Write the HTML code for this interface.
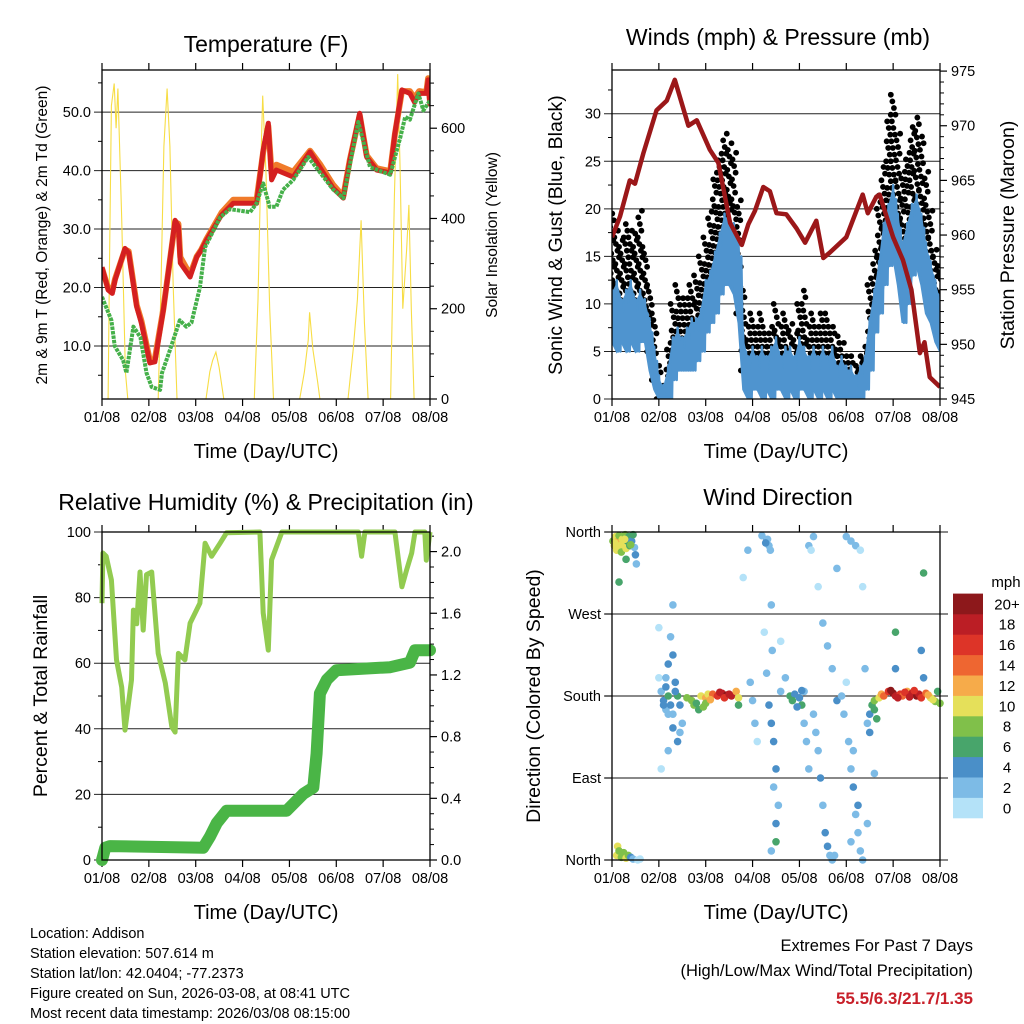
<!DOCTYPE html>
<html><head><meta charset="utf-8"><style>
html,body{margin:0;padding:0;background:#fff;}
svg{display:block;font-family:"Liberation Sans",Arial,sans-serif;}
</style></head><body>
<svg id="fig" width="1024" height="1024" viewBox="0 0 1024 1024">
<defs>
<clipPath id="c1"><rect x="102" y="70" width="328" height="329"/></clipPath>
<clipPath id="c2"><rect x="612" y="70" width="328" height="329"/></clipPath>
<clipPath id="c3"><rect x="96" y="526" width="340" height="340"/></clipPath>
<clipPath id="c4"><rect x="606" y="526" width="340" height="340"/></clipPath>
</defs>
</svg>
<script>
// ---------- DATA ----------
const dayLabels = ["01/08","02/08","03/08","04/08","05/08","06/08","07/08","08/08"];
// Temperature panel
const tempTime = [0,0.13,0.22,0.28,0.49,0.57,0.74,0.84,1.02,1.13,1.31,1.56,1.63,1.67,1.88,2.02,2.12,2.23,2.55,2.8,3.3,3.44,3.55,3.62,3.72,4.08,4.44,4.66,4.93,5.15,5.29,5.5,5.65,5.86,6.15,6.25,6.4,6.57,6.67,6.77,6.92,6.96,7.0];
const temp2m = [23.5,19.6,19,21.3,26.7,25.9,16.7,13.9,7.1,7.3,16.2,31.5,30.4,24.2,21.8,25.2,26.4,28.1,32.4,34.4,34.4,43.5,48.1,38.4,40.1,38.9,43.2,40.4,37,35.3,41.8,49.8,42.3,40.1,39.6,46.4,53.8,53.2,51.7,53.2,53.2,55.5,51];
const temp9m = [23.3,19.9,19.4,21.5,26.5,26.2,17,14.3,7.6,7.8,16.4,31.2,30.9,25.2,22.2,25.3,26.5,28.3,32.8,35,35,43.2,47.6,39.6,41,39.8,43.4,41,37.6,35.6,41.9,49.5,42.6,40.4,39.9,46.2,53.6,53.6,52.4,53.6,53.4,55.8,51.8];
const dewTime = [0,0.2,0.27,0.45,0.52,0.67,0.82,0.95,1.06,1.24,1.28,1.45,1.66,1.8,1.91,2.09,2.2,2.52,2.73,3.16,3.3,3.44,3.58,3.72,3.86,4.08,4.4,4.93,5.15,5.47,5.72,6.15,6.37,6.47,6.57,6.75,6.86,7.0];
const dew2m = [18.4,14.4,10,7.6,5.4,13.3,11.5,5.4,3,2.5,5.4,9.3,14.4,13.3,14,20,26.9,32,33.4,32.9,34.4,37.8,33.8,33.8,36.7,38.4,42.3,36.8,35.3,48.3,40.6,39.3,45.8,49.2,48.7,53.2,50.3,52];
const solarTime = [0,0.13,0.16,0.2,0.26,0.3,0.34,0.42,0.5,0.55,1.2,1.26,1.32,1.39,1.45,1.52,1.6,2.22,2.3,2.36,2.43,2.5,2.6,3.25,3.33,3.4,3.43,3.5,3.58,3.66,4.22,4.32,4.4,4.43,4.5,4.6,4.65,5.25,5.36,5.45,5.53,5.6,5.68,6.16,6.24,6.31,6.36,6.42,6.5,6.55,6.6,6.66,7.0];
const solarVal = [0,0,300,650,699,600,688,400,60,0,0,250,560,688,560,250,0,0,60,85,104,70,0,0,220,560,672,500,200,0,0,60,130,192,110,40,0,0,110,220,396,170,0,0,450,720,520,200,330,430,200,0,0];
// Winds panel (0.1 day steps)
const windLo = [6,5,6,5,6,5,6,6,3,1,0,0,0,2,3,3,3,3,4,5,7,8,9,11,12,12,11,8,1,0,1,1,0,1,0,1,1,0,1,0,1,1,0,1,0,1,0,1,0,0,0,0,0,0,1,3,7,9,12,14,15,12,8,10,13,14,12,9,8,6,5];
const windHi = [11,12,10,11,12,10,11,10,8,5,2,1,3,6,7,6,7,8,8,9,12,13,15,17,19,19,18,16,6,4,5,4,5,4,5,6,4,5,5,4,6,5,4,5,4,5,4,5,3,4,3,3,2,3,4,8,11,14,18,20,22,19,16,18,20,21,19,16,14,12,10];
const gustLo = [9,10,9,10,10,9,10,9,5,2,0,0,1,3,5,5,5,5,6,8,10,12,14,16,16,15,14,9,3,2,2,2,2,2,2,3,2,2,3,2,3,3,2,2,2,2,2,2,1,1,1,1,0,1,2,5,10,13,16,18,18,16,12,14,16,17,15,12,10,8,7];
const gustHi = [20,18,17,19,18,18,20,16,12,9,4,2,6,10,12,11,11,12,13,15,17,20,24,26,28,27,26,21,12,8,9,8,9,7,8,10,8,9,8,7,10,12,8,9,8,9,9,8,7,6,5,5,4,5,6,13,16,22,25,30,32,28,24,26,29,30,28,24,20,16,14];
const presTime = [0,0.17,0.38,0.49,0.67,0.95,1.17,1.34,1.63,1.81,2.09,2.27,2.52,2.77,2.91,3.05,3.23,3.37,3.51,3.72,3.94,4.12,4.36,4.51,4.65,5.0,5.35,5.46,5.64,5.71,6.0,6.21,6.39,6.57,6.67,6.78,7.0];
const presVal = [959.8,961.7,965,964.7,967.5,971.4,972.3,974.2,970,970.5,967.8,966.6,961.1,959.1,961,962.2,964.4,964,962,961.9,960.6,959.3,961.3,957.9,958.4,959.8,963.7,962,963.5,963.7,959.8,957.7,955,949.2,950.2,947,946.1];
// RH / precip panel
const rhTime = [0,0.02,0.09,0.2,0.31,0.42,0.49,0.63,0.67,0.74,0.81,0.88,0.95,1.06,1.2,1.35,1.49,1.56,1.63,1.77,1.88,2.09,2.2,2.34,2.52,2.66,3.37,3.44,3.55,3.62,3.84,5.47,5.54,5.61,6.25,6.4,6.5,6.61,6.68,6.89,6.92,7.0];
const rhVal = [78.3,93.6,92.6,85.4,61,52.7,39.6,54.9,76.2,72,87.8,70.1,87,87.8,63,54,40.6,39,63,61,72.2,78.3,96.6,92.6,96.6,99.8,100,75.3,64,91.5,100,100,92.6,100,100,83.3,88.4,93.6,100,100,91.4,100];
const rainTime = [0,0.07,0.17,2.16,2.3,2.45,2.66,3.94,4.3,4.51,4.58,4.65,4.8,5.0,6.15,6.57,6.68,7.0];
const rainVal = [0,0.08,0.09,0.08,0.15,0.24,0.32,0.32,0.43,0.47,0.69,1.08,1.17,1.23,1.25,1.28,1.36,1.36];
// Wind direction panel
const dirTime = [0.02,0.05,0.08,0.1,0.13,0.15,0.18,0.2,0.22,0.25,0.28,0.3,0.33,0.36,0.38,0.42,0.45,0.48,0.5,0.52,0.3,0.15,0.06,0.27,0.4,
0.1,0.12,0.15,0.2,0.25,0.3,0.35,0.4,0.45,0.55,0.6,
1.0,1.0,1.05,1.1,1.15,1.15,1.2,1.25,1.3,1.3,1.35,1.4,1.4,1.45,1.5,1.2,1.25,1.3,1.2,1.05,1.3,1.1,1.2,1.35,1.45,1.15,
1.6,1.7,1.75,1.8,1.9,2.0,2.05,2.15,2.25,2.35,2.45,2.55,2.65,2.7,2.7,1.85,2.0,2.1,2.3,2.4,2.5,1.95,
2.8,2.9,2.95,3.0,3.05,3.1,3.2,3.3,3.35,3.3,3.35,3.4,3.45,3.5,3.45,3.5,3.5,3.4,3.55,3.6,3.6,3.7,3.4,3.25,3.32,3.28,3.38,3.42,
3.8,3.9,4.0,4.05,4.1,4.1,4.15,4.2,4.2,4.25,4.3,4.35,4.4,4.45,4.5,4.55,4.6,4.65,4.7,4.3,4.4,4.5,3.85,3.95,4.05,
4.6,4.7,4.8,4.9,4.95,5.0,5.05,5.1,5.15,5.2,5.25,5.3,5.35,5.0,5.1,5.2,5.3,5.35,4.8,5.4,5.15,5.25,5.1,4.75,
5.45,5.5,5.55,5.6,5.6,5.7,5.75,5.8,5.9,6.0,6.05,6.15,6.2,6.3,6.4,6.5,6.55,6.6,6.7,6.8,6.9,7.0,6.95,6.05,6.05,6.65,6.6,6.65,5.6,5.45,5.95,6.1,6.25,6.35,6.45,6.75,6.85,5.65,5.5];
const dirDeg = [350,345,355,340,350,356,345,338,352,347,357,342,350,355,345,350,357,343,335,325,330,305,348,352,346,
5,15,10,3,8,2,5,3,1,0,1,
255,200,185,175,165,190,180,170,160,145,195,180,130,170,150,215,245,225,120,100,280,170,160,185,140,200,
178,175,170,172,180,178,182,182,180,183,181,180,185,178,170,165,172,176,184,178,182,168,
310,340,195,175,150,130,356,350,345,205,170,150,130,100,80,40,20,10,60,185,240,200,280,250,352,348,340,230,
180,182,178,170,185,150,130,100,345,340,160,140,120,90,60,30,15,5,0,355,300,260,175,168,186,
235,210,175,180,160,195,130,100,80,50,30,10,0,355,350,345,340,300,320,210,120,60,20,5,
150,160,170,165,175,178,182,180,185,183,180,182,180,185,183,180,182,178,183,178,174,172,185,210,250,200,230,315,95,40,186,178,184,179,186,181,176,155,140];
const dirSpeed = [9,10,11,10,12,9,10,8,11,10,9,10,7,6,7,5,6,3,4,2,7,7,10,11,9,
10,11,9,8,9,10,8,4,2,1,1,
1,1,2,4,3,5,7,4,3,5,4,6,5,4,3,4,3,5,2,1,3,4,3,4,3,2,
8,9,8,7,10,12,11,15,17,18,20,19,12,10,6,6,9,13,19,16,18,8,
1,2,2,3,3,1,3,4,3,3,4,5,4,4,3,4,6,2,3,2,1,2,2,1,3,4,2,2,
6,5,4,6,3,2,3,2,2,1,3,2,3,4,3,5,4,3,2,2,1,3,7,5,4,
2,3,4,2,3,1,2,3,4,3,2,3,2,2,3,2,1,1,2,2,3,4,3,2,
3,5,7,6,8,10,12,14,17,20,19,17,15,12,18,20,19,17,14,10,9,8,6,4,6,5,4,6,2,2,20,18,16,19,17,12,11,7,4];
const speedBins = ["0","2","4","6","8","10","12","14","16","18","20+"];
const speedColors = ["#b4e2f8","#7dbbe6","#4a8fc8","#48a56b","#80c04a","#e5e05a","#f6ab4a","#ee6631","#dd3428","#bb1e25","#8d181b"];

// ---------- HELPERS ----------
const NS = "http://www.w3.org/2000/svg";
const svg = document.getElementById("fig");
function mk(tag, attrs, parent) {
  const e = document.createElementNS(NS, tag);
  for (const k in attrs) e.setAttribute(k, attrs[k]);
  (parent || svg).appendChild(e);
  return e;
}
function txt(s, x, y, size, anchor, parent, extra) {
  const t = mk("text", Object.assign({x: x, y: y, "font-size": size, "text-anchor": anchor || "middle", fill: "#000"}, extra || {}), parent);
  t.textContent = s;
  return t;
}
function linScale(d0, d1, r0, r1) { return v => r0 + (v - d0) / (d1 - d0) * (r1 - r0); }

const P1 = {x:102,y:70,w:328,h:329}, P2 = {x:612,y:70,w:328,h:329}, P3 = {x:102,y:532,w:328,h:328}, P4 = {x:612,y:532,w:328,h:328};

function timeAxis(P, name) {
  const g = mk("g", {});
  
  
  const sx = linScale(0, 7, P.x, P.x + P.w);
  for (let i = 0; i < dayLabels.length; i++) {
    const x = sx(i);
    mk("line", {x1:x, y1:P.y + P.h, x2:x, y2:P.y + P.h + 7, stroke:"#000", "stroke-width":1.2}, g);
    mk("line", {x1:x, y1:P.y, x2:x, y2:P.y - 7, stroke:"#000", "stroke-width":1.2}, g);
    const t = txt(dayLabels[i], x, P.y + P.h + 23, 14.5, "middle", g);
    
    
  }
  const tt = txt("Time (Day/UTC)", P.x + P.w / 2, P.y + P.h + 59, 20, "middle", g);
  
  
  return sx;
}
function frame(P, name) {
  const r = mk("rect", {x:P.x, y:P.y, width:P.w, height:P.h, fill:"none", stroke:"#000", "stroke-width":1.3});
  
  
}
function leftAxis(P, sy, ticks, labels, minors, name, grid) {
  const g = mk("g", {});
  
  
  ticks.forEach((v, i) => {
    const y = sy(v);
    if (grid) mk("line", {x1:P.x - 8, y1:y, x2:P.x + P.w, y2:y, stroke:"#222", "stroke-width":1}, g);
    else mk("line", {x1:P.x - 7, y1:y, x2:P.x, y2:y, stroke:"#000", "stroke-width":1.2}, g);
    const t = txt(labels[i], P.x - 11, y + 5, 14.5, "end", g);
    
    
  });
  minors.forEach(v => { const y = sy(v); mk("line", {x1:P.x - 4, y1:y, x2:P.x, y2:y, stroke:"#000", "stroke-width":1}, g); });
}
function rightAxis(P, sy, ticks, labels, minors, name) {
  const g = mk("g", {});
  
  
  ticks.forEach((v, i) => {
    const y = sy(v);
    mk("line", {x1:P.x + P.w, y1:y, x2:P.x + P.w + 7, y2:y, stroke:"#000", "stroke-width":1.2}, g);
    const t = txt(labels[i], P.x + P.w + 11, y + 5, 14.5, "start", g);
    
    
  });
  minors.forEach(v => { const y = sy(v); mk("line", {x1:P.x + P.w, y1:y, x2:P.x + P.w + 4, y2:y, stroke:"#000", "stroke-width":1}, g); });
}
function vtitle(s, x, y, size, name) {
  const t = txt(s, x, y, size, "middle", svg, {transform:"rotate(-90 " + x + " " + y + ")"});
  
  
}
function title(s, x, y, name) {
  const t = txt(s, x, y, 23, "middle");
  
  
}
function pathFrom(ts, vs, sx, sy) {
  return ts.map((t, i) => (i ? "L" : "M") + sx(t).toFixed(1) + "," + sy(vs[i]).toFixed(1)).join(" ");
}

// ---------- PANEL 1: Temperature ----------
{
  const sx = timeAxis(P1, "temperature");
  const sy = linScale(0.94, 57.2, P1.y + P1.h, P1.y);
  const sySol = linScale(0, 729, P1.y + P1.h, P1.y);
  leftAxis(P1, sy, [10,20,30,40,50], ["10.0","20.0","30.0","40.0","50.0"], [5,15,25,35,45,55], "temperature", true);
  rightAxis(P1, sySol, [0,200,400,600], ["0","200","400","600"], [50,100,150,250,300,350,450,500,550,650,700], "solar");
  const g = mk("g", {"clip-path":"url(#c1)"});
  
  
  const sol = mk("path", {d:pathFrom(solarTime, solarVal, sx, sySol), fill:"none", stroke:"#f7dd45", "stroke-width":1.1}, g);
  
  
  const o = mk("path", {d:pathFrom(tempTime, temp9m, sx, sy), fill:"none", stroke:"#f07b2a", "stroke-width":6, "stroke-linejoin":"round"}, g);
  
  
  const r = mk("path", {d:pathFrom(tempTime, temp2m, sx, sy), fill:"none", stroke:"#d42020", "stroke-width":5, "stroke-linejoin":"round"}, g);
  
  
  const dw = mk("path", {d:pathFrom(dewTime, dew2m, sx, sy), fill:"none", stroke:"#45b04a", "stroke-width":4, "stroke-dasharray":"3.5 1", "stroke-linejoin":"round"}, g);
  
  
  frame(P1, "temperature");
  title("Temperature (F)", 266, 52, "temperature-title");
  vtitle("2m & 9m T (Red, Orange) & 2m Td (Green)", 47, 235, 15.5, "temperature-y-axis-title");
  vtitle("Solar Insolation (Yellow)", 497, 235, 15.5, "solar-y-axis-title");
}

// ---------- PANEL 2: Winds ----------
{
  const sx = timeAxis(P2, "winds");
  const sy = linScale(0, 34.6, P2.y + P2.h, P2.y);
  const syP = linScale(945, 975.1, P2.y + P2.h, P2.y);
  leftAxis(P2, sy, [0,5,10,15,20,25,30], ["0","5","10","15","20","25","30"], [2.5,7.5,12.5,17.5,22.5,27.5,32.5], "wind", true);
  rightAxis(P2, syP, [945,950,955,960,965,970,975], ["945","950","955","960","965","970","975"], [946,947,948,949,951,952,953,954,956,957,958,959,961,962,963,964,966,967,968,969,971,972,973,974], "pressure");
  const g = mk("g", {"clip-path":"url(#c2)"});
  
  
  const step = 0.1;
  const gg = mk("g", {fill:"#000"}, g);
  
  
  gustLo.forEach((lo, i) => {
    const hi = gustHi[i];
    const t0 = i * step;
    let k = 0;
    for (let v = lo; v <= hi + 0.01; v += 0.7) {
      const c = mk("circle", {cx:sx(t0 + ((k * 7) % 10 - 4.5) * 0.011), cy:sy(v), r:2.9}, gg);
      
      
      k++;
    }
  });
  // wind band polygon
  const band = [];
  windHi.forEach((hi, i) => band.push(sx(i * step).toFixed(1) + "," + sy(hi).toFixed(1)));
  for (let i = windLo.length - 1; i >= 0; i--) band.push(sx(i * step).toFixed(1) + "," + sy(windLo[i]).toFixed(1));
  const wb = mk("polygon", {points:band.join(" "), fill:"#4f94cf", stroke:"#4f94cf", "stroke-width":2}, g);
  
  
  const ws = [], wv = [];
  windLo.forEach((lo, i) => {
    ws.push(i * step); wv.push(windHi[i] + 0.5);
    ws.push(i * step + 0.03); wv.push(lo);
    ws.push(i * step + 0.06); wv.push(windHi[i] - 1);
    ws.push(i * step + 0.08); wv.push(lo);
  });
  const wl = mk("path", {d:pathFrom(ws, wv, sx, sy), fill:"none", stroke:"#4f94cf", "stroke-width":2.5, "stroke-linejoin":"round"}, g);
  
  
  const pl = mk("path", {d:pathFrom(presTime, presVal, sx, syP), fill:"none", stroke:"#9b1719", "stroke-width":4.5, "stroke-linejoin":"round"}, g);
  
  
  frame(P2, "winds");
  title("Winds (mph) & Pressure (mb)", 778, 45, "winds-title");
  vtitle("Sonic Wind & Gust (Blue, Black)", 562, 235, 19.5, "wind-y-axis-title");
  vtitle("Station Pressure (Maroon)", 1014, 235, 19.5, "pressure-y-axis-title");
}

// ---------- PANEL 3: RH & Precip ----------
{
  const sx = timeAxis(P3, "humidity");
  const sy = linScale(0, 100, P3.y + P3.h, P3.y);
  const syR = linScale(0, 2.127, P3.y + P3.h, P3.y);
  leftAxis(P3, sy, [0,20,40,60,80,100], ["0","20","40","60","80","100"], [10,30,50,70,90], "humidity", true);
  rightAxis(P3, syR, [0,0.4,0.8,1.2,1.6,2.0], ["0.0","0.4","0.8","1.2","1.6","2.0"], [0.1,0.2,0.3,0.5,0.6,0.7,0.9,1.0,1.1,1.3,1.4,1.5,1.7,1.8,1.9,2.1], "precipitation");
  const g = mk("g", {"clip-path":"url(#c3)"});
  
  
  const rh = mk("path", {d:pathFrom(rhTime, rhVal, sx, sy), fill:"none", stroke:"#92cb50", "stroke-width":5, "stroke-linejoin":"round"}, g);
  
  
  const rn = mk("path", {d:pathFrom(rainTime, rainVal, sx, syR), fill:"none", stroke:"#4ab546", "stroke-width":12, "stroke-linejoin":"round", "stroke-linecap":"round"}, g);
  
  
  frame(P3, "humidity");
  title("Relative Humidity (%) & Precipitation (in)", 266, 510, "humidity-title");
  vtitle("Percent & Total Rainfall", 47, 696, 19.5, "humidity-y-axis-title");
}

// ---------- PANEL 4: Wind direction ----------
{
  const sx = timeAxis(P4, "direction");
  const sy = linScale(0, 360, P4.y + P4.h, P4.y);
  leftAxis(P4, sy, [0,90,180,270,360], ["North","East","South","West","North"], [], "direction", false);
  const gl = mk("g", {});
  [0,90,180,270,360].forEach(v => mk("line", {x1:P4.x - 8, y1:sy(v), x2:P4.x + P4.w + 8, y2:sy(v), stroke:"#111", "stroke-width":1}, gl));
  const g = mk("g", {"clip-path":"url(#c4)"});
  
  
  dirTime.forEach((t, i) => {
    const bin = Math.min(10, Math.floor(dirSpeed[i] / 2));
    const c = mk("circle", {cx:sx(t), cy:sy(dirDeg[i]), r:3.8, fill:speedColors[bin]}, g);
    
    
  });
  frame(P4, "direction");
  title("Wind Direction", 778, 505, "direction-title");
  vtitle("Direction (Colored By Speed)", 540, 696, 19.5, "direction-y-axis-title");
  // colorbar
  const cb = mk("g", {});
  
  
  const bh = 20.4;
  speedBins.forEach((lab, i) => {
    const y = 818 - (i + 1) * bh;
    const r = mk("rect", {x:953, y:y, width:30, height:bh + 0.3, fill:speedColors[i]}, cb);
    
    
    const tl = txt(lab, 1007, y + bh / 2 + 5.5, 15, "middle", cb);
    
    
  });
  const mph = txt("mph", 1006, 587, 15, "middle", cb);
  
  
}

// ---------- footer text ----------
{
  const info = ["Location: Addison","Station elevation: 507.614 m","Station lat/lon: 42.0404; -77.2373","Figure created on Sun, 2026-03-08, at 08:41 UTC","Most recent data timestamp: 2026/03/08 08:15:00"];
  info.forEach((s, i) => {
    const t = txt(s, 30, 938 + i * 20, 14.5, "start");
    
    
  });
  const a = txt("Extremes For Past 7 Days", 973, 951, 16.5, "end");
  
  
  const b = txt("(High/Low/Max Wind/Total Precipitation)", 973, 976, 16.5, "end");
  
  
  const c = txt("55.5/6.3/21.7/1.35", 973, 1004, 17, "end", svg, {fill:"#c8202a", "font-weight":"bold"});
  
  
}
</script>
</body></html>
